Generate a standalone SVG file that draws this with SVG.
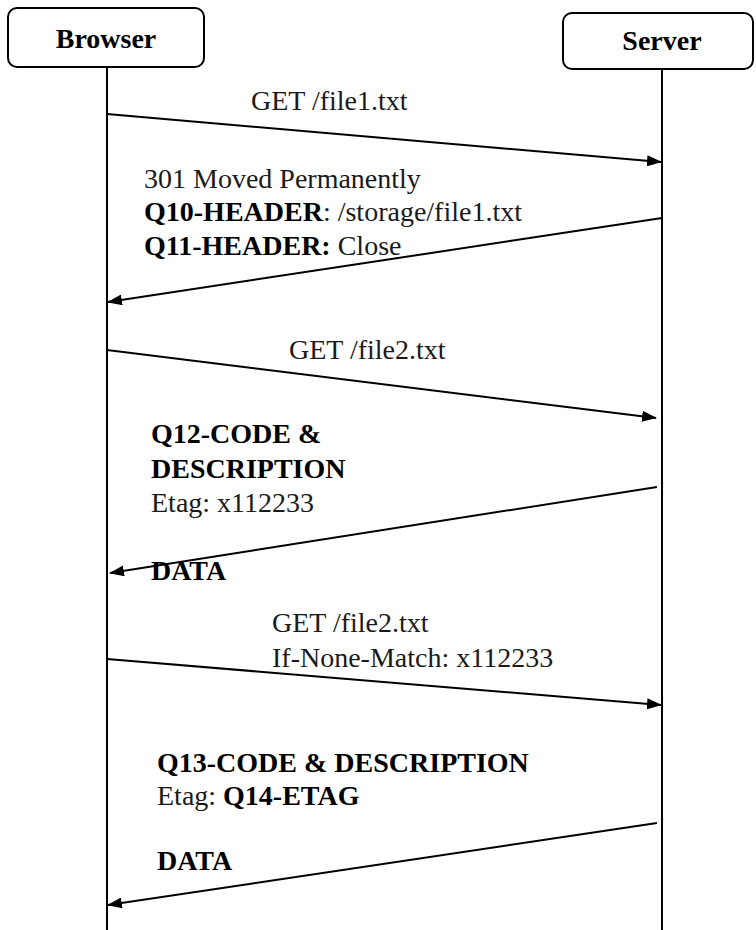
<svg xmlns="http://www.w3.org/2000/svg" width="756" height="930" viewBox="0 0 756 930">
<style>
.box{fill:#fff;stroke:#000;stroke-width:2}
.life{stroke:#000;stroke-width:2}
.msg{stroke:#000;stroke-width:2;fill:none;marker-end:url(#ah)}
text{font-family:"Liberation Serif","Times New Roman",serif;font-size:28px;fill:#1a1a1a}
.b{font-weight:bold;fill:#000}
.c{text-anchor:middle}
</style>
<defs>
<marker id="ah" markerWidth="15" markerHeight="11" refX="14" refY="5.5" orient="auto" markerUnits="userSpaceOnUse">
<path d="M0,0 L15,5.5 L0,11 z" fill="#000"/>
</marker>
</defs>
<rect width="756" height="930" fill="#fff"/>
<g id="browser">
<rect class="box" x="8" y="8" width="196" height="59" rx="9"/>
<text class="b c" x="106" y="48">Browser</text>
</g>
<g id="server">
<rect class="box" x="563" y="13" width="190" height="56" rx="9"/>
<text class="b c" x="662" y="50">Server</text>
</g>
<g id="connectors">
<line class="life" x1="107" y1="67" x2="107" y2="930"/>
<line class="life" x1="662" y1="69" x2="662" y2="930"/>
<line class="msg" x1="107" y1="114" x2="661" y2="162"/>
<line class="msg" x1="662" y1="218" x2="108" y2="302"/>
<line class="msg" x1="107" y1="350" x2="656" y2="418"/>
<line class="msg" x1="657" y1="487" x2="110" y2="573"/>
<line class="msg" x1="107" y1="659" x2="661" y2="705"/>
<line class="msg" x1="657" y1="823" x2="108" y2="905"/>
</g>
<g id="labels">
<text x="251" y="110">GET /file1.txt</text>
<text x="144" y="188">301 Moved Permanently</text>
<text x="144" y="221"><tspan class="b">Q10-HEADER</tspan>: /storage/file1.txt</text>
<text x="144" y="255"><tspan class="b">Q11-HEADER:</tspan> Close</text>
<text x="289" y="359">GET /file2.txt</text>
<text class="b" x="151" y="443">Q12-CODE &amp;</text>
<text class="b" x="151" y="478">DESCRIPTION</text>
<text x="151" y="512">Etag: x112233</text>
<text class="b" x="151" y="580">DATA</text>
<text x="272" y="632">GET /file2.txt</text>
<text x="272" y="667">If-None-Match: x112233</text>
<text class="b" x="157" y="772">Q13-CODE &amp; DESCRIPTION</text>
<text x="157" y="805">Etag: <tspan class="b">Q14-ETAG</tspan></text>
<text class="b" x="157" y="870">DATA</text>
</g>
</svg>
